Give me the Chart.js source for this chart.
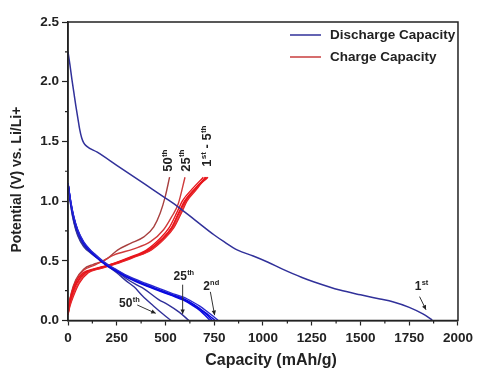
<!DOCTYPE html>
<html><head><meta charset="utf-8">
<script src="https://cdn.jsdelivr.net/npm/chart.js@4/dist/chart.umd.min.js"></script>
<style>html,body{margin:0;padding:0;background:#fff;}#wrap{width:478px;height:370px;}</style>
</head><body><div id="wrap"><canvas id="c" width="478" height="370"></canvas></div>
<script>
// ---- Data (capacity mAh/g, potential V) ----
const xTicks = [0, 250, 500, 750, 1000, 1250, 1500, 1750, 2000];
const yTicks = [0.0, 0.5, 1.0, 1.5, 2.0, 2.5];

const dis1Cap = [0,10,20,30,40,50,60,70,80,95,150,250,400,500,566,650,750,800,870,950,1023,1100,1200,1259,1394,1500,1600,1665,1750,1820,1868];
const dis1V   = [2.25,2.14,2.02,1.91,1.80,1.70,1.60,1.53,1.49,1.46,1.41,1.30,1.135,1.025,0.95,0.843,0.716,0.66,0.59,0.54,0.49,0.43,0.36,0.325,0.255,0.215,0.18,0.157,0.11,0.055,0.005];

const dis2Cap = [0,15,30,50,80,110,135,170,203,250,304,400,473,530,592,640,676,710,745,770];
const dis2V   = [1.15,0.99,0.87,0.76,0.66,0.60,0.56,0.51,0.47,0.425,0.375,0.31,0.265,0.23,0.195,0.155,0.12,0.08,0.035,0.0];
const dis3Cap = [0,15,30,50,80,110,135,170,203,250,304,400,473,530,592,640,676,710,740,755];
const dis3V   = [1.15,0.985,0.865,0.755,0.655,0.595,0.555,0.505,0.465,0.42,0.37,0.30,0.255,0.22,0.183,0.14,0.10,0.06,0.02,0.0];
const dis4Cap = [0,15,30,50,80,110,135,170,203,250,304,400,473,530,592,640,676,710,740];
const dis4V   = [1.15,0.98,0.86,0.75,0.65,0.59,0.55,0.50,0.46,0.415,0.365,0.295,0.25,0.215,0.178,0.135,0.095,0.05,0.0];
const dis5Cap = [0,15,30,50,80,110,135,170,203,250,304,400,473,530,592,640,676,705,728];
const dis5V   = [1.15,0.975,0.855,0.745,0.645,0.585,0.545,0.495,0.455,0.41,0.36,0.29,0.245,0.21,0.17,0.125,0.085,0.04,0.0];
const dis25Cap = [0,15,30,50,80,120,160,200,250,300,350,390,465,510,570,620];
const dis25V   = [1.15,0.96,0.83,0.72,0.63,0.565,0.515,0.465,0.41,0.35,0.30,0.265,0.175,0.135,0.07,0.0];
const dis50Cap = [0,15,30,50,80,120,160,200,250,300,340,380,440,490,528];
const dis50V   = [1.15,0.95,0.82,0.71,0.62,0.56,0.51,0.46,0.40,0.33,0.28,0.21,0.12,0.05,0.0];

const chV      = [0.05,0.12,0.20,0.31,0.40,0.43,0.46,0.48,0.53,0.59,0.68,0.775,0.91,1.00,1.10,1.20];
const ch1Cap   = [0,4,14,36,78,128,200,242,326,412,482,532,572,602,652,718];
const ch2Cap   = [0,6,19,45,90,140,206,246,328,414,480,530,570,597,648,708];
const ch3Cap   = [0,8,23,52,97,148,212,252,334,420,488,538,580,606,656,712];
const ch4Cap   = [0,5,17,42,86,136,200,238,318,402,468,518,560,586,636,694];
const ch5Cap   = [0,10,27,57,104,155,220,260,340,426,492,542,584,610,660,704];
const ch25Cap  = [0,5,17,40,80,130,180,237,338,423,490,532,566,600];
const ch25V    = [0.05,0.13,0.22,0.33,0.42,0.46,0.50,0.55,0.60,0.66,0.76,0.87,0.98,1.20];
const ch50Cap  = [0,5,17,40,80,130,169,203,254,321,389,440,473,499,521];
const ch50V    = [0.05,0.13,0.23,0.34,0.43,0.47,0.49,0.52,0.59,0.646,0.70,0.785,0.90,1.04,1.20];

const legendLabels = ['Discharge Capacity', 'Charge Capacity'];
const xTitle = 'Capacity (mAh/g)';
const yTitle = 'Potential (V) vs. Li/Li+';
// -------------------------------------------------------------------

const FONT = '"Liberation Sans", Arial, Helvetica, sans-serif';
const pts = (xs, ys) => xs.map((x, i) => ({x, y: ys[i]}));
function ds(xs, ys, color, w) {
  return {data: pts(xs, ys), borderColor: color, borderWidth: w || 1.4, showLine: true,
          pointRadius: 0, fill: false, cubicInterpolationMode: 'monotone'};
}
const NAVY = '#31319a', BLUE = '#0a0ae0', RED = '#e8161c', DRED = '#a8403f', MRED = '#cf3b3b';

const datasets = [
  ds(dis1Cap, dis1V, NAVY, 1.5),
  ds(dis2Cap, dis2V, '#2a2ad0'),
  ds(dis3Cap, dis3V, BLUE),
  ds(dis4Cap, dis4V, BLUE),
  ds(dis5Cap, dis5V, BLUE),
  ds(dis25Cap, dis25V, NAVY),
  ds(dis50Cap, dis50V, NAVY),
  ds(ch1Cap, chV, RED),
  ds(ch2Cap, chV, RED),
  ds(ch3Cap, chV, '#e43a3a'),
  ds(ch4Cap, chV, RED),
  ds(ch5Cap, chV, RED),
  ds(ch25Cap, ch25V, MRED),
  ds(ch50Cap, ch50V, DRED),
];

function drawParts(ctx, x, y, parts, size) {
  let cx = x;
  for (const [t, sup] of parts) {
    ctx.font = 'bold ' + (sup ? size * 0.62 : size) + 'px ' + FONT;
    ctx.fillText(t, cx, sup ? y - size * 0.42 : y);
    cx += ctx.measureText(t).width + (sup ? 0 : 0.3);
  }
}
function arrow(ctx, x1, y1, x2, y2) {
  ctx.beginPath(); ctx.moveTo(x1, y1); ctx.lineTo(x2, y2); ctx.stroke();
  const a = Math.atan2(y2 - y1, x2 - x1), L = 5, W = 0.45;
  ctx.beginPath(); ctx.moveTo(x2, y2);
  ctx.lineTo(x2 - L * Math.cos(a - W), y2 - L * Math.sin(a - W));
  ctx.lineTo(x2 - L * Math.cos(a + W), y2 - L * Math.sin(a + W));
  ctx.closePath(); ctx.fill();
}

const extras = {
  id: 'extras',
  afterDatasetsDraw(chart) {
    const ctx = chart.ctx, a = chart.chartArea, xs = chart.scales.x, ys = chart.scales.y;
    const X = v => xs.getPixelForValue(v), Y = v => ys.getPixelForValue(v);
    ctx.save();
    // frame
    ctx.strokeStyle = '#222'; ctx.lineWidth = 1.5;
    ctx.strokeRect(a.left, a.top, a.right - a.left, a.bottom - a.top);
    // minor ticks
    ctx.lineWidth = 1.2; ctx.beginPath();
    for (let v = 125; v < 2000; v += 250) { ctx.moveTo(X(v), a.bottom); ctx.lineTo(X(v), a.bottom + 3); }
    for (let v = 0.25; v < 2.5; v += 0.5) { ctx.moveTo(a.left, Y(v)); ctx.lineTo(a.left - 3, Y(v)); }
    ctx.stroke();
    // axis titles
    ctx.fillStyle = '#222'; ctx.textAlign = 'center';
    ctx.font = 'bold 16px ' + FONT; ctx.textBaseline = 'alphabetic';
    ctx.fillText(xTitle, a.left + 203, 365);
    ctx.save(); ctx.translate(17, Y(1.18)); ctx.rotate(-Math.PI / 2);
    ctx.font = 'bold 14px ' + FONT; ctx.textBaseline = 'middle';
    ctx.fillText(yTitle, 0, 0); ctx.restore();
    ctx.textAlign = 'left';
    // legend
    const lx = a.right - 168, tx = a.right - 128;
    [[NAVY, 35], ['#c83c3c', 57]].forEach(([c, yy], i) => {
      ctx.strokeStyle = c; ctx.lineWidth = 1.5;
      ctx.beginPath(); ctx.moveTo(lx, yy); ctx.lineTo(lx + 31, yy); ctx.stroke();
      ctx.fillStyle = '#222'; ctx.font = 'bold 13.5px ' + FONT; ctx.textBaseline = 'middle';
      ctx.fillText(legendLabels[i], tx, yy);
    });
    // annotations
    ctx.fillStyle = '#222'; ctx.strokeStyle = '#333'; ctx.lineWidth = 1; ctx.textBaseline = 'alphabetic';
    drawParts(ctx, X(1778), Y(0.255), [['1', 0], ['st', 1]], 12);
    arrow(ctx, X(1803), Y(0.20), X(1836), Y(0.09));
    drawParts(ctx, X(693), Y(0.255), [['2', 0], ['nd', 1]], 12);
    arrow(ctx, X(730), Y(0.24), X(752), Y(0.045));
    drawParts(ctx, X(541), Y(0.339), [['25', 0], ['th', 1]], 12);
    arrow(ctx, X(588), Y(0.30), X(588), Y(0.055));
    drawParts(ctx, X(262), Y(0.113), [['50', 0], ['th', 1]], 12);
    arrow(ctx, X(355), Y(0.13), X(450), Y(0.06));
    // rotated labels
    const rot = (cap, v, parts) => {
      ctx.save(); ctx.translate(X(cap) + 4.6, Y(v)); ctx.rotate(-Math.PI / 2);
      drawParts(ctx, 0, 0, parts, 13); ctx.restore();
    };
    rot(512, 1.245, [['50', 0], ['th', 1]]);
    rot(600, 1.245, [['25', 0], ['th', 1]]);
    rot(710, 1.287, [['1', 0], ['st', 1], [' - 5', 0], ['th', 1]]);
    ctx.restore();
  }
};

new Chart(document.getElementById('c'), {
  type: 'scatter',
  data: {datasets},
  options: {
    responsive: false, animation: false, devicePixelRatio: 1,
    layout: {padding: {left: 0, top: 22, right: 15, bottom: 0}},
    plugins: {legend: {display: false}, tooltip: {enabled: false}},
    scales: {
      x: {
        type: 'linear', min: 0, max: 2000,
        afterBuildTicks: s => { s.ticks = xTicks.map(v => ({value: v})); },
        afterFit: s => { s.height = 49.5; },
        ticks: {color: '#222', font: {family: FONT, size: 13.5, weight: 'bold'}, padding: 5, maxRotation: 0, autoSkip: false, callback: v => String(v)},
        grid: {drawOnChartArea: false, drawTicks: true, tickLength: 5, tickColor: '#222', tickWidth: 1.2},
        border: {color: '#222', width: 1.5},
        title: {display: false}
      },
      y: {
        type: 'linear', min: 0, max: 2.5,
        afterBuildTicks: s => { s.ticks = yTicks.map(v => ({value: v})); },
        afterFit: s => { s.width = 68; },
        ticks: {color: '#222', font: {family: FONT, size: 13.5, weight: 'bold'}, padding: 3, callback: v => v.toFixed(1)},
        grid: {drawOnChartArea: false, drawTicks: true, tickLength: 6, tickColor: '#222', tickWidth: 1.2},
        border: {color: '#222', width: 1.5},
        title: {display: false}
      }
    }
  },
  plugins: [extras]
});
</script></body></html>
